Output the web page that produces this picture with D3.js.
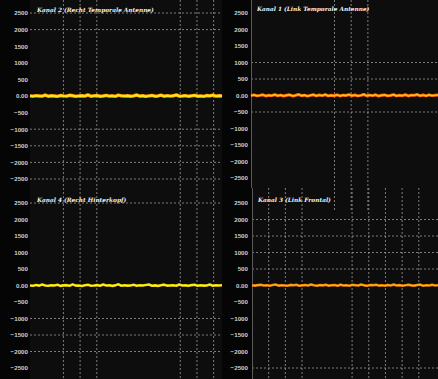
<!DOCTYPE html>
<html>
<head>
<meta charset="utf-8">
<script src="https://cdn.jsdelivr.net/npm/d3@7"></script>
<style>
  html, body { margin: 0; padding: 0; background: #050505; }
  svg { display: block; }
</style>
</head>
<body>
<svg id="chart" width="438" height="379"></svg>
<script>
// EEG channel traces (µV), one array per channel
const channelTitles = [
  "Kanal 2 (Recht Temporale Antenne)",
  "Kanal 1 (Link Temporale Antenne)",
  "Kanal 4 (Recht Hinterkopf)",
  "Kanal 3 (Link Frontal)"
];

const kanal2 = [4,-6,10,2,-4,28,-8,6,0,-12,14,3,-5,22,8,-10,2,6,-3,35,-6,4,12,-8,0,18,-4,6,-10,26,5,-2,9,-7,3,30,-5,8,-12,4,16,-6,2,24,-8,10,-3,6,32,-4,0,12,-9,5,20,-6,3,-11,14,2,28,-5,7,0];
const kanal1 = [-6,18,-10,4,22,-14,8,-4,26,-8,12,-16,6,20,-12,2,30,-6,10,-18,4,24,-10,14,-4,28,-12,6,-8,20,-14,10,2,26,-6,16,-12,4,32,-8,12,-4,22,-16,6,18,-10,2,26,-12,8,-6,24,-14,10,4,30,-8,14,-10,20,-4,8,12];
const kanal4 = [2,-8,14,-4,30,0,-10,6,-2,24,-12,4,10,-6,34,-4,2,-14,8,20,-6,0,12,-8,28,-2,6,-12,4,36,-6,10,-4,2,22,-10,6,-2,14,30,-8,4,-12,8,26,-4,0,10,-6,32,-2,4,-10,12,24,-8,6,-4,2,30,-10,8,-2,6];
const kanal3 = [6,-4,12,20,-2,8,-6,16,28,-4,10,2,-8,18,6,24,-6,4,14,-2,30,8,-10,12,4,22,-4,6,16,-8,26,2,10,-6,20,8,-2,32,4,-6,14,10,24,-4,6,-8,18,2,28,-2,12,-6,8,22,4,-4,16,26,-6,10,2,20,-2,8];

const channels = [kanal2, kanal1, kanal4, kanal3];

// Y axis ticks
const yTicks = [2500, 2000, 1500, 1000, 500, 0, -500, -1000, -1500, -2000, -2500];
// ticks that carry a dashed grid line, per panel
const yGridTicks = [
  [2500, 2000, -1000, -1500, -2000, -2500],
  [1000, 500, -500],
  [2500, -1000, -1500, -2000],
  [2000, 1500, 1000, 500, -2500]
];
// seconds that carry a vertical dashed grid line, per panel
const xGridTicks = [
  [2, 3, 4, 9, 10, 11],
  [5, 6, 7],
  [2, 3, 4, 9, 10, 11],
  [1, 2, 3, 6, 7, 8, 9, 10]
];
const timeSpan = [11.5, 11.2, 11.5, 11.15];

const svg = d3.select("#chart");

// panel geometry
const panels = [
  { x0: 30,  x1: 222, top: 0,   bottom: 188, yTop: 13,  yBot: 179, labelX: 28,  gridTop: 0,   gridBot: 188, titleX: 37,  titleY: 12,  base: "#ff9a00", trace: "#ffe61a", baseW: 3.4, traceW: 2.0 },
  { x0: 251, x1: 438, top: 0,   bottom: 188, yTop: 13,  yBot: 178, labelX: 248, gridTop: 0,   gridBot: 210, titleX: 257, titleY: 11,  base: "#ff7000", trace: "#ffc81a", baseW: 3.0, traceW: 1.2 },
  { x0: 30,  x1: 222, top: 188, bottom: 379, yTop: 203, yBot: 368, labelX: 28,  gridTop: 188, gridBot: 379, titleX: 37,  titleY: 202, base: "#d8c000", trace: "#fff21e", baseW: 2.6, traceW: 1.6 },
  { x0: 252, x1: 438, top: 188, bottom: 379, yTop: 203, yBot: 368, labelX: 248, gridTop: 188, gridBot: 379, titleX: 258, titleY: 202, base: "#e88000", trace: "#ffb81a", baseW: 2.6, traceW: 1.1 }
];

// backgrounds
panels.forEach(p => {
  svg.append("rect")
    .attr("x", p.x0).attr("y", p.top)
    .attr("width", p.x1 - p.x0).attr("height", p.bottom - p.top)
    .attr("fill", "#0d0d0d");
});

const scales = panels.map((p, k) => ({
  x: d3.scaleLinear().domain([0, timeSpan[k]]).range([p.x0, p.x1]),
  y: d3.scaleLinear().domain([-2500, 2500]).range([p.yBot, p.yTop])
}));

// grids
panels.forEach((p, k) => {
  const { x, y } = scales[k];
  const g = svg.append("g");
  g.selectAll("line.h").data(yGridTicks[k]).join("line")
    .attr("x1", p.x0).attr("x2", p.x1)
    .attr("y1", d => y(d)).attr("y2", d => y(d))
    .attr("stroke", "#9a9a9a").attr("stroke-width", 0.8)
    .attr("stroke-dasharray", "2,2");
  g.selectAll("line.v").data(xGridTicks[k]).join("line")
    .attr("x1", d => x(d)).attr("x2", d => x(d))
    .attr("y1", p.gridTop).attr("y2", p.gridBot)
    .attr("stroke", "#9a9a9a").attr("stroke-width", 0.8)
    .attr("stroke-dasharray", "2,2");
});

// left edge line of the right-hand panels
[1, 3].forEach(k => {
  const p = panels[k];
  svg.append("line")
    .attr("x1", p.x0 + 0.5).attr("x2", p.x0 + 0.5)
    .attr("y1", p.top).attr("y2", p.bottom)
    .attr("stroke", "#5a5a5a").attr("stroke-width", 1);
});

// axes labels
panels.forEach((p, k) => {
  const { y } = scales[k];
  const axis = d3.axisLeft(y).tickValues(yTicks).tickSize(0)
    .tickFormat(d => d === 0 ? "0.00" : d3.format("d")(d));
  const g = svg.append("g").attr("transform", `translate(${p.labelX},0)`).call(axis);
  g.select(".domain").remove();
  g.selectAll("text")
    .attr("fill", "#cfcfcf")
    .attr("font-family", "Liberation Sans")
    .attr("font-weight", "bold")
    .attr("font-size", 6.2)
    .attr("x", 0);
});

// traces
panels.forEach((p, k) => {
  const { x, y } = scales[k];
  const data = channels[k];
  const n = data.length;
  const line = d3.line()
    .x((d, i) => x(i * timeSpan[k] / (n - 1)))
    .y(d => y(d));
  svg.append("path").datum(data)
    .attr("d", line).attr("fill", "none")
    .attr("stroke", p.base).attr("stroke-width", p.baseW)
    .attr("stroke-linejoin", "round");
  svg.append("path").datum(data)
    .attr("d", line).attr("fill", "none")
    .attr("stroke", p.trace).attr("stroke-width", p.traceW)
    .attr("stroke-linejoin", "round");
});

// titles
panels.forEach((p, k) => {
  svg.append("text")
    .attr("x", p.titleX).attr("y", p.titleY)
    .attr("fill", "#f2f2f2")
    .attr("font-family", "DejaVu Serif")
    .attr("font-style", "italic")
    .attr("font-weight", "bold")
    .attr("font-size", 5.8)
    .text(channelTitles[k]);
});
</script>
</body>
</html>
